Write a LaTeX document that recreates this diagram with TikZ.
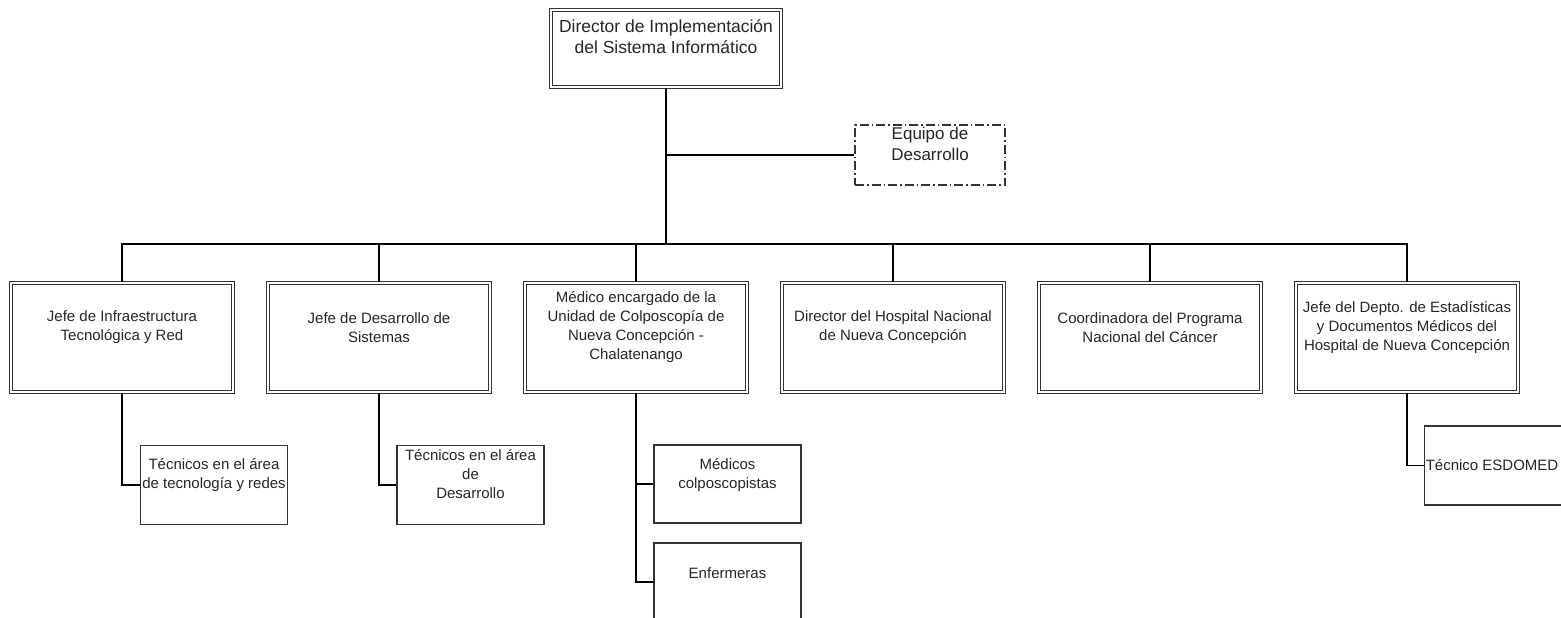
\documentclass[tikz,border=0pt]{standalone}
\usepackage{fontspec}
\setmainfont{Liberation Sans}
\begin{document}
\begin{tikzpicture}[x=1pt, y=-1pt, line width=1.3pt,
  cargo/.style={draw=black!80, double=white, double distance=2.2pt, line width=1.1pt, minimum width=222pt, minimum height=109pt, inner sep=0pt},
  sub/.style={draw=black!80, line width=1.3pt, minimum width=147pt, minimum height=79pt, inner sep=0pt},
  lab/.style={align=center, text=black!85, font=\fontsize{15}{19}\selectfont, inner sep=0pt}]
\clip (0,0) rectangle (1561,618);
\node[cargo, minimum width=230pt, minimum height=77pt, label={[lab, font=\fontsize{17.5}{21}\selectfont, yshift=12pt]center:{Director de Implementación\\del Sistema Informático}}] (dirImpl) at (666,48.5) {};
\node[draw=black!80, line width=1.2pt, dash pattern=on 9pt off 3pt on 1.5pt off 3pt, minimum width=150pt, minimum height=60pt, inner sep=0pt, label={[lab, font=\fontsize{17}{21.5}\selectfont, yshift=11pt]center:{Equipo de\\Desarrollo}}] (equipo) at (930,155) {};
\foreach \x/\nm/\txt in {122/jefeInfra/Jefe de Infraestructura\\Tecnológica y Red, 379/jefeDes/Jefe de Desarrollo de\\Sistemas, 636/medico/Médico encargado de la\\Unidad de Colposcopía de\\Nueva Concepción -\\Chalatenango, 893/director/Director del Hospital Nacional\\de Nueva Concepción, 1150/coord/Coordinadora del Programa\\Nacional del Cáncer, 1407/jefeEstad/Jefe del Depto. de Estadísticas\\y Documentos Médicos del\\Hospital de Nueva Concepción}{\node[cargo, label={[lab, yshift=10pt]center:{\txt}}] (\nm) at (\x,337.5) {};}
\node[sub, label={[lab, yshift=10pt]center:{Técnicos en el área\\de tecnología y redes}}] (tecRed) at (214,485) {};
\node[sub, label={[lab, yshift=11pt]center:{Técnicos en el área\\de\\Desarrollo}}] (tecDes) at (470.5,485) {};
\node[sub, minimum height=78pt, label={[lab, yshift=9pt]center:{Médicos\\colposcopistas}}] (medCol) at (727.5,484) {};
\node[sub, minimum height=78pt, label={[lab, yshift=9pt]center:{Enfermeras}}] (enferm) at (727.5,582) {};
\node[sub, label={[lab, xshift=-6pt]center:{Técnico ESDOMED}}] (tecEsd) at (1498,465.5) {};
% connectors
\coordinate (busY) at (0,244);
\coordinate (bus) at (dirImpl.south |- busY);
\draw (dirImpl.south) -- (bus);
\draw (dirImpl.south |- equipo.west) -- (equipo.west);
\draw (jefeInfra.north) |- (bus) -| (jefeEstad.north);
\foreach \nm in {jefeDes, medico, director, coord}{\draw (\nm.north) -- (\nm.north |- bus);}
\draw (jefeInfra.south) |- (tecRed.west);
\draw (jefeDes.south) |- (tecDes.west);
\draw (medico.south) |- (medCol.west);
\draw (medico.south) |- (enferm.west);
\draw (jefeEstad.south) |- (tecEsd.west);
\end{tikzpicture}
\end{document}
